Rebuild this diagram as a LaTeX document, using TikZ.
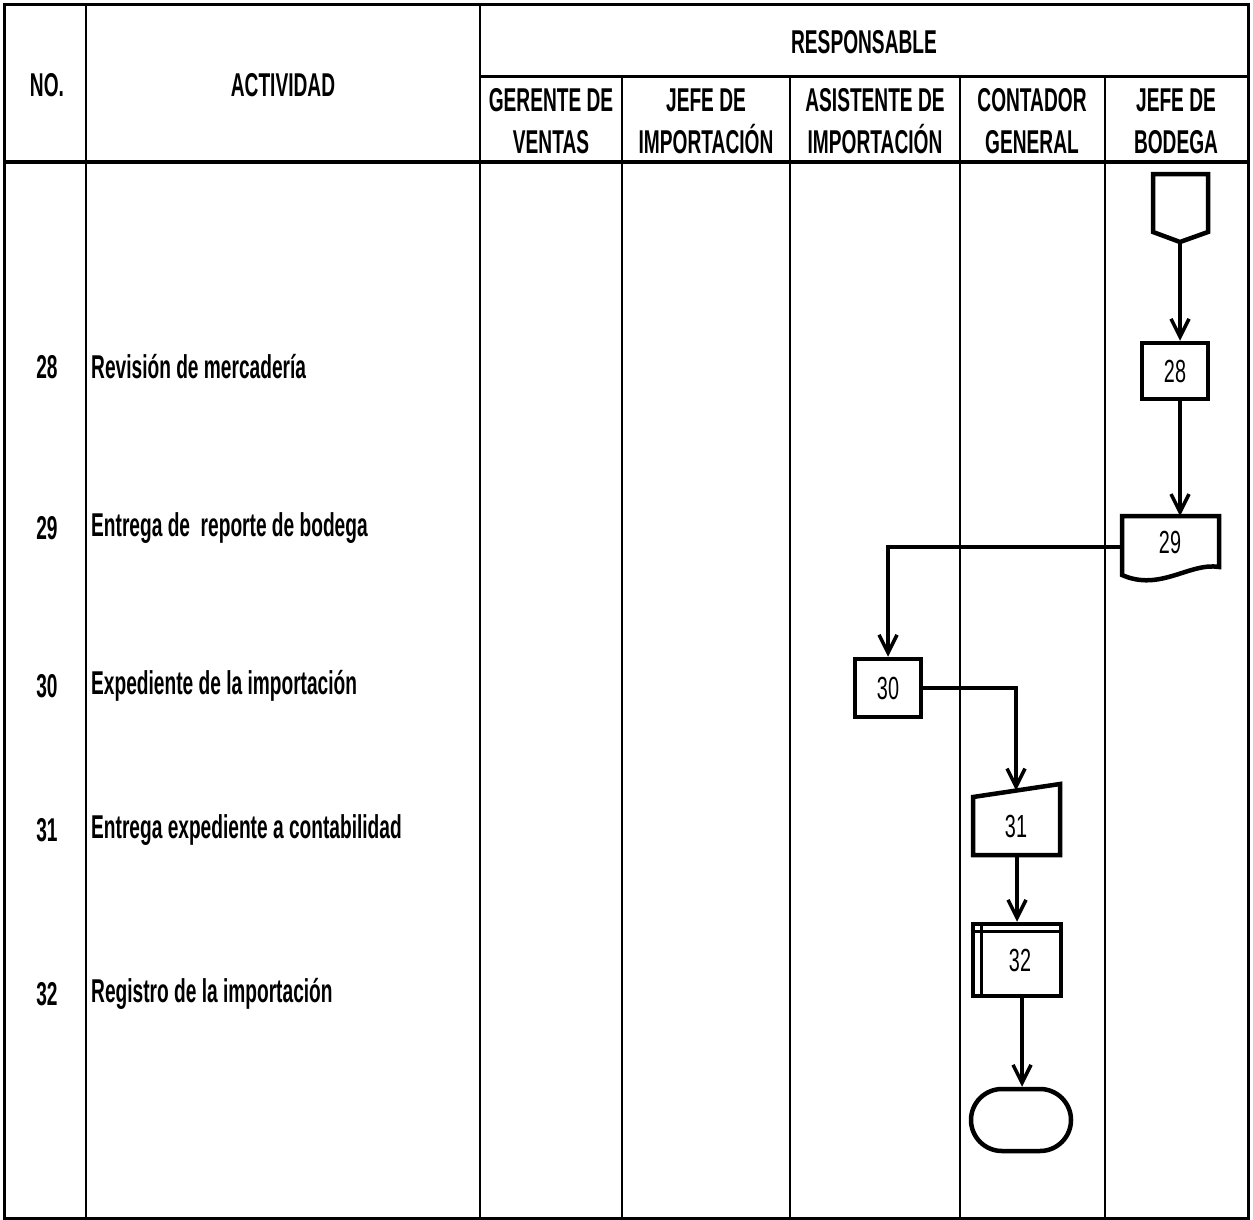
\documentclass[tikz,border=0pt]{standalone}
\usepackage{fontspec}
\usetikzlibrary{arrows.meta,shapes.misc}
% condensed sans faces for the table and the symbols
\newfontfamily\condsans{Liberation Sans}[FakeStretch=0.58]
\newfontfamily\condnum{Liberation Sans}[FakeStretch=0.62]
\newcommand\tblfont{\condsans\bfseries\fontsize{33}{42}\selectfont}
\newcommand\symfont{\condnum\fontsize{32}{32}\selectfont}
\begin{document}
\begin{tikzpicture}[x=1pt,y=-1pt,
  hdr/.style={font=\tblfont, align=center, inner sep=0pt},
  actv/.style={font=\tblfont, anchor=west, inner sep=0pt},
  sym/.style={draw, line width=4.5pt, font=\symfont, inner sep=0pt},
  lbl/.style={font=\symfont, inner sep=0pt},
  flow/.style={line width=3.5pt, -{Straight Barb[length=18pt,width=18pt]}}]
\useasboundingbox (0,0) rectangle (1253,1220);

% ---- table grid ----
\draw[line width=2pt] (86,5) -- (86,1218) (480,5) -- (480,1218);
\foreach \cx in {622,790,960,1105}{\draw[line width=2pt] (\cx,77) -- (\cx,1218);}
\draw[line width=3pt] (480,77) -- (1248,77);
\draw[line width=4pt] (4,162) -- (1248,162);
\draw[line width=3pt] (4,5) rectangle (1248,1218);

% ---- header ----
\node[hdr] (hno)  at (47,85)  {NO.};
\node[hdr] (hact) at (283,85) {ACTIVIDAD};
\node[hdr] (hres) at (864,42) {RESPONSABLE};
\node[hdr] (hc1) at (551,121) {GERENTE DE\\VENTAS};
\node[hdr] (hc2) at (706,121) {JEFE DE\\IMPORTACIÓN};
\node[hdr] (hc3) at (875,121) {ASISTENTE DE\\IMPORTACIÓN};
\node[hdr] (hc4) at (1032,121) {CONTADOR\\GENERAL};
\node[hdr] (hc5) at (1176,121) {JEFE DE\\BODEGA};

% ---- activity rows ----
\node[hdr]  (n28) at (47,367) {28};
\node[actv] (a28) at (91,367) {Revisión de mercadería};
\node[hdr]  (n29) at (47,528) {29};
\node[actv] (a29) at (91,528) {Entrega de\ \ reporte de bodega};
\node[hdr]  (n30) at (47,686) {30};
\node[actv] (a30) at (91,686) {Expediente de la importación};
\node[hdr]  (n31) at (47,830) {31};
\node[actv] (a31) at (91,830) {Entrega expediente a contabilidad};
\node[hdr]  (n32) at (47,994) {32};
\node[actv] (a32) at (91,994) {Registro de la importación};

% ---- flow symbols ----
% off-page connector
\draw[line width=4.5pt, line join=miter] (1153,174) -- (1208,174) -- (1208,232) -- (1180,242) -- (1153,232) -- cycle;
\coordinate (opc) at (1180,242);

% 28: process
\node[sym, minimum width=66pt, minimum height=56pt] (s28) at (1175,371) {28};

% 29: document
\draw[line width=4.5pt] (1122,516) -- (1219,516) -- (1219,567)
  .. controls (1190,562) and (1160,592) .. (1122,575) -- cycle;
\node[lbl] (s29) at (1170,542) {29};
\coordinate (d29n) at (1180,516);
\coordinate (d29w) at (1122,547);

% 30: process
\node[sym, minimum width=66pt, minimum height=58pt] (s30) at (888,688) {30};

% 31: manual input
\draw[line width=4.5pt] (973,797) -- (1060,784) -- (1060,855) -- (973,855) -- cycle;
\node[lbl] (s31) at (1016,826) {31};
\coordinate (m31n) at (1016,790.5);
\coordinate (m31s) at (1017,855);

% 32: predefined process
\node[sym, minimum width=88pt, minimum height=72pt] (s32) at (1017,960) {\hspace*{6pt}32};
\draw[line width=3pt] ([yshift=-10pt]s32.north west) -- ([yshift=-10pt]s32.north east);
\draw[line width=3pt] ([xshift=11pt]s32.north west) -- ([xshift=11pt]s32.south west);

% end: terminator
\node[sym, rounded rectangle, minimum width=100pt, minimum height=62pt] (fin) at (1021,1120) {};

% ---- connectors ----
\draw[flow] (opc) -- (opc |- s28.north);
\draw[flow] (opc |- s28.south) -- (d29n);
\draw[flow] (d29w) -| (s30.north);
\draw[flow] (s30.east) -| (m31n);
\draw[flow] (m31s) -- (m31s |- s32.north);
\draw[flow] ([xshift=5pt]s32.south) -- ([xshift=5pt]s32.south |- fin.north);
\end{tikzpicture}
\end{document}
